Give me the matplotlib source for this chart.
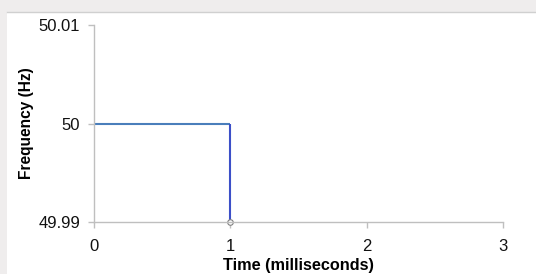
import matplotlib.pyplot as plt
from matplotlib.patches import Rectangle

plt.rcParams['font.family'] = ['Liberation Sans', 'DejaVu Sans']

time_h = [0, 1]
freq_h = [50, 50]
time_v = [1, 1]
freq_v = [50, 49.99]
x_ticks = [0, 1, 2, 3]
y_ticks = [49.99, 50, 50.01]
y_tick_labels = ["49.99", "50", "50.01"]

fig = plt.figure(figsize=(5.36, 2.74), dpi=100)
fig.patch.set_facecolor('#efeded')
# white panel with a thin grey border on top
fig.patches.append(Rectangle((7 / 536, 0), 1, 1 - 12 / 274, transform=fig.transFigure,
                             facecolor='white', edgecolor='none', zorder=-10))
fig.lines.append(plt.Line2D([7 / 536, 1], [1 - 11.5 / 274] * 2, transform=fig.transFigure,
                            color='#d0d0d0', lw=1, zorder=-5))

ax = fig.add_axes([94 / 536, 52 / 274, 409 / 536, 197 / 274])
ax.set_facecolor('white')
ax.set_zorder(1)

ax.plot(time_h, freq_h, color='#4a7ebb', lw=1.5, solid_capstyle='butt')
ax.plot(time_v, freq_v, color='#3c4fc8', lw=1.5, solid_capstyle='butt')
ax.plot([time_v[-1]], [freq_v[-1]], marker='o', ms=4, mfc='white', mec='#808080', mew=0.8,
        clip_on=False)

ax.set_xlim(0, 3)
ax.set_ylim(49.99, 50.01)
ax.set_xticks(x_ticks)
ax.set_yticks(y_ticks)
ax.set_yticklabels(y_tick_labels)

for s in ['top', 'right']:
    ax.spines[s].set_visible(False)
for s in ['left', 'bottom']:
    ax.spines[s].set_color('#bfbfbf')
    ax.spines[s].set_linewidth(1)
ax.tick_params(direction='out', length=4, width=1, color='#bfbfbf', labelsize=12,
               labelcolor='#111111')
ax.tick_params(axis='y', pad=6)
ax.tick_params(axis='x', pad=8)

ax.set_xlabel("Time (milliseconds)", fontsize=11.7, fontweight='bold', labelpad=3)
ax.set_ylabel("Frequency (Hz)", fontsize=11.2, fontweight='bold', labelpad=3)

fig.savefig("out.png", dpi=100, facecolor=fig.get_facecolor())
